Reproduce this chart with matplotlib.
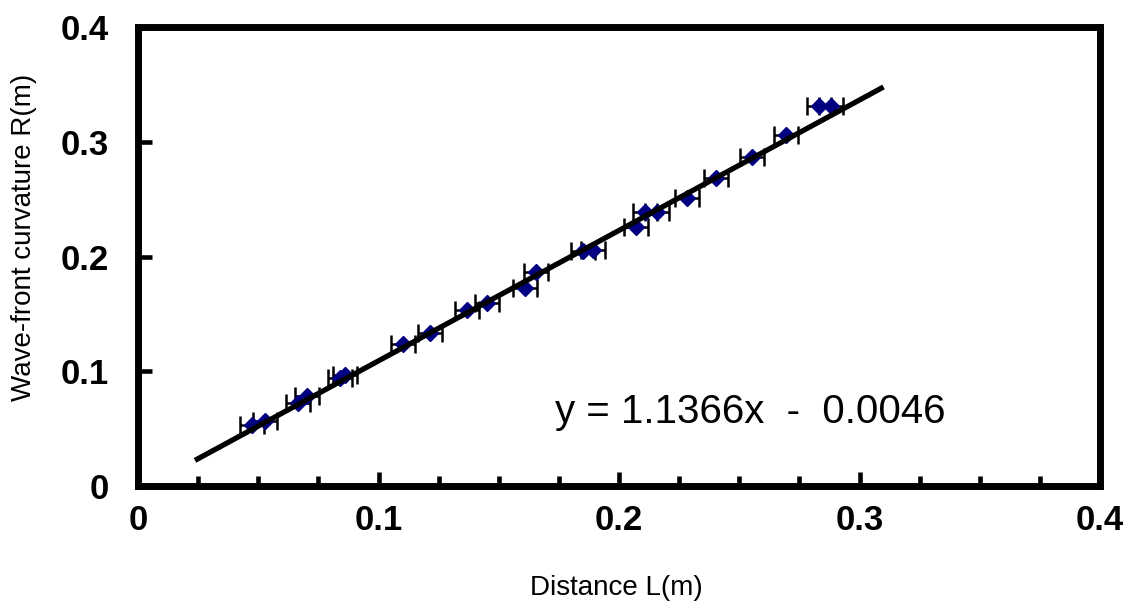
import numpy as np
import matplotlib
matplotlib.use("Agg")
import matplotlib.pyplot as plt
from matplotlib.ticker import MultipleLocator

plt.rcParams['font.family'] = ['Liberation Sans', 'DejaVu Sans']

# Data
L = [0.0473, 0.0528, 0.0667, 0.0701, 0.0840, 0.0861, 0.1100, 0.1215, 0.1368, 0.1451,
     0.1609, 0.1655, 0.1852, 0.1891, 0.2071, 0.2108, 0.2159, 0.2281, 0.2403, 0.2554,
     0.2693, 0.2833, 0.2882]
R = [0.0532, 0.0567, 0.0726, 0.0785, 0.0939, 0.0968, 0.1235, 0.1335, 0.1534, 0.1595,
     0.1724, 0.1868, 0.2049, 0.2058, 0.2261, 0.2392, 0.2392, 0.2514, 0.2683, 0.2871,
     0.3060, 0.3313, 0.3313]
L_err = 0.005
slope = 1.1366
intercept = -0.0046
fit_range = [0.0237, 0.31]
xticks = [0, 0.1, 0.2, 0.3, 0.4]
yticks = [0, 0.1, 0.2, 0.3, 0.4]
tick_labels = ['0', '0.1', '0.2', '0.3', '0.4']

fig = plt.figure(figsize=(11.28, 6.11), dpi=100)
ax = fig.add_axes([138/1128, 1-486/611, (1100-138)/1128, (486-27)/611])

ax.errorbar(L, R, xerr=L_err, fmt='none', ecolor='black', elinewidth=1.8,
            capsize=6.5, capthick=1.8, zorder=2)
ax.plot(L, R, linestyle='none', marker='D', markersize=8, color='#000080', zorder=3)

xf = np.array(fit_range)
ax.plot(xf, slope*xf + intercept, color='black', linewidth=3.8, zorder=4,
        solid_capstyle='butt')

ax.text(0.1734, 0.0645, 'y = %.4fx  -  %.4f' % (slope, -intercept), fontsize=29,
        ha='left', va='center')

ax.set_xlim(0, 0.4)
ax.set_ylim(0, 0.4)
ax.set_xticks(xticks)
ax.set_xticklabels(tick_labels)
ax.set_yticks(yticks)
ax.set_yticklabels(tick_labels)
ax.xaxis.set_minor_locator(MultipleLocator(0.025))

for s in ax.spines.values():
    s.set_linewidth(5)
    s.set_color('black')

ax.tick_params(axis='both', which='major', direction='in', length=10, width=3.3,
               labelsize=25, top=False, right=False)
ax.tick_params(axis='x', which='major', pad=13)
ax.tick_params(axis='y', which='major', pad=21)
ax.tick_params(axis='x', which='minor', direction='in', length=7.5, width=3.3, top=False)
for lbl in ax.get_xticklabels() + ax.get_yticklabels():
    lbl.set_fontweight('bold')
for t in ax.xaxis.get_major_ticks() + ax.xaxis.get_minor_ticks() + ax.yaxis.get_major_ticks():
    t.tick1line.set_solid_capstyle('round')

fig.text(616/1128, 1-588/611, 'Distance L(m)', fontsize=20, ha='center', va='center')
fig.text(24/1128, 1-237/611, 'Wave-front curvature R(m)', fontsize=20, ha='center',
         va='center', rotation=90)

fig.savefig('out.png', dpi=100)
